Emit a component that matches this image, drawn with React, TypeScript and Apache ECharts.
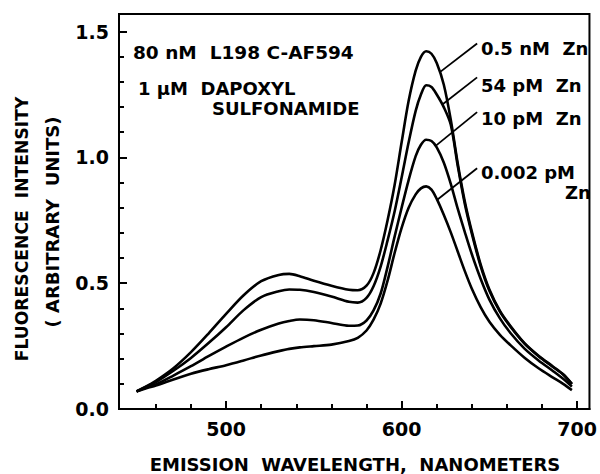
import React, { useEffect, useRef } from "react";
import * as echarts from "echarts";

const wavelengths = [449, 455, 460, 470, 480, 490, 500, 510, 520, 530, 536, 542, 550, 560, 570, 575, 580, 584, 588, 592, 596, 600, 604, 608, 611, 614, 617, 620, 624, 628, 632, 636, 640, 645, 650, 656, 662, 670, 678, 686, 692, 697];

const zn05nM = [0.07, 0.092, 0.112, 0.162, 0.226, 0.3, 0.378, 0.452, 0.508, 0.533, 0.537, 0.528, 0.51, 0.49, 0.474, 0.472, 0.49, 0.54, 0.63, 0.75, 0.89, 1.06, 1.225, 1.345, 1.4, 1.422, 1.412, 1.375, 1.29, 1.15, 0.975, 0.825, 0.705, 0.575, 0.475, 0.39, 0.33, 0.262, 0.212, 0.17, 0.138, 0.1];
const zn54pM = [0.07, 0.09, 0.107, 0.152, 0.203, 0.262, 0.325, 0.393, 0.445, 0.468, 0.475, 0.474, 0.465, 0.447, 0.426, 0.423, 0.442, 0.488, 0.565, 0.67, 0.785, 0.92, 1.06, 1.185, 1.25, 1.287, 1.28, 1.25, 1.2, 1.13, 0.965, 0.815, 0.697, 0.568, 0.47, 0.387, 0.327, 0.26, 0.21, 0.168, 0.137, 0.099];
const zn10pM = [0.07, 0.086, 0.098, 0.133, 0.17, 0.21, 0.248, 0.284, 0.315, 0.34, 0.35, 0.356, 0.353, 0.342, 0.331, 0.332, 0.352, 0.392, 0.458, 0.565, 0.685, 0.8, 0.91, 1.005, 1.05, 1.07, 1.065, 1.04, 0.98, 0.895, 0.795, 0.703, 0.615, 0.518, 0.435, 0.36, 0.302, 0.24, 0.193, 0.152, 0.12, 0.089];
const zn0002pM = [0.07, 0.083, 0.093, 0.117, 0.14, 0.158, 0.174, 0.193, 0.213, 0.23, 0.239, 0.245, 0.25, 0.256, 0.27, 0.283, 0.312, 0.355, 0.418, 0.51, 0.62, 0.72, 0.8, 0.853, 0.877, 0.885, 0.872, 0.835, 0.772, 0.702, 0.625, 0.548, 0.478, 0.405, 0.347, 0.295, 0.254, 0.204, 0.162, 0.126, 0.1, 0.075];

const xLabelTicks = [500, 600, 700];
const xMinorTicks = [460, 480, 520, 540, 560, 580, 620, 640, 660, 680];
const yLabelTicks = [0, 0.5, 1.0, 1.5];
const yMinorTicks = [0.1, 0.2, 0.3, 0.4, 0.6, 0.7, 0.8, 0.9, 1.1, 1.2, 1.3, 1.4];

// leader lines [fromX, fromY, toX, toY] in data units
const leaders = [
  [622, 1.34, 643, 1.453],
  [623.2, 1.21, 643, 1.318],
  [619.2, 1.045, 643, 1.18],
  [620.3, 0.832, 643, 0.957],
];

const FONT = "'DejaVu Sans', sans-serif";

export default function App() {
  const ref = useRef<HTMLDivElement>(null);
  useEffect(() => {
    if (!ref.current) return;
    const chart = echarts.init(ref.current, undefined, { renderer: "svg" });
    const mk = (vals: number[]) => wavelengths.map((w, i) => [w, vals[i]]);
    const lineSeries = (name: string, vals: number[], extra: any = {}) => ({
      name,
      type: "line",
      data: mk(vals),
      smooth: 0.3,
      symbol: "none",
      lineStyle: { color: "#000", width: 2.6 },
      silent: true,
      ...extra,
    });
    const baseX = {
      type: "value",
      min: 439,
      max: 707,
      splitLine: { show: false },
      axisLine: { show: true, lineStyle: { color: "#000", width: 2 } },
    };
    const baseY = {
      type: "value",
      min: 0,
      max: 1.57,
      splitLine: { show: false },
      axisLine: { show: true, lineStyle: { color: "#000", width: 2 } },
    };
    const textStyle = { fontFamily: FONT, fontWeight: "bold", fill: "#000" };
    chart.setOption({
      animation: false,
      grid: { left: 119, right: 7, top: 14, bottom: 65, show: true, borderColor: "#000", borderWidth: 2, containLabel: false },
      xAxis: [
        {
          ...baseX,
          axisTick: { show: true, inside: true, length: 8, lineStyle: { color: "#000", width: 2 }, customValues: xLabelTicks },
          axisLabel: { show: true, customValues: xLabelTicks, margin: 10, color: "#000", fontFamily: FONT, fontWeight: "bold", fontSize: 19 },
        },
        {
          ...baseX,
          position: "bottom",
          axisTick: { show: true, inside: true, length: 5, lineStyle: { color: "#000", width: 2 }, customValues: xMinorTicks },
          axisLabel: { show: false },
        },
      ],
      yAxis: [
        {
          ...baseY,
          axisTick: { show: true, inside: true, length: 8, lineStyle: { color: "#000", width: 2 }, customValues: yLabelTicks },
          axisLabel: { show: true, customValues: yLabelTicks, margin: 10, color: "#000", fontFamily: FONT, fontWeight: "bold", fontSize: 19, formatter: (v: number) => v.toFixed(1) },
        },
        {
          ...baseY,
          position: "left",
          axisTick: { show: true, inside: true, length: 5, lineStyle: { color: "#000", width: 2 }, customValues: yMinorTicks },
          axisLabel: { show: false },
        },
      ],
      series: [
        lineSeries("0.5 nM Zn", zn05nM, {
          markLine: {
            silent: true,
            symbol: "none",
            label: { show: false },
            lineStyle: { color: "#000", width: 1.8, type: "solid" },
            data: leaders.map((l) => [{ coord: [l[0], l[1]] }, { coord: [l[2], l[3]] }]),
          },
        }),
        lineSeries("54 pM Zn", zn54pM),
        lineSeries("10 pM Zn", zn10pM),
        lineSeries("0.002 pM Zn", zn0002pM),
      ],
      graphic: [
        { type: "text", left: 133, top: 43, style: { ...textStyle, text: "80 nM  L198 C-AF594", fontSize: 18.5 } },
        { type: "text", left: 138, top: 79, style: { ...textStyle, text: "1 \u03bcM  DAPOXYL", fontSize: 18 } },
        { type: "text", left: 212, top: 99, style: { ...textStyle, text: "SULFONAMIDE", fontSize: 18 } },
        { type: "text", left: 481, top: 39, style: { ...textStyle, text: "0.5 nM  Zn", fontSize: 18 } },
        { type: "text", left: 481, top: 76, style: { ...textStyle, text: "54 pM  Zn", fontSize: 18 } },
        { type: "text", left: 481, top: 109, style: { ...textStyle, text: "10 pM  Zn", fontSize: 18 } },
        { type: "text", left: 481, top: 163, style: { ...textStyle, text: "0.002 pM", fontSize: 18 } },
        { type: "text", left: 565, top: 183, style: { ...textStyle, text: "Zn", fontSize: 18 } },
        {
          type: "text", x: 22, y: 229, rotation: Math.PI / 2,
          style: { ...textStyle, text: "FLUORESCENCE  INTENSITY", fontSize: 17.2, align: "center", verticalAlign: "middle" },
        },
        {
          type: "text", x: 52, y: 222, rotation: Math.PI / 2,
          style: { ...textStyle, text: "( ARBITRARY  UNITS)", fontSize: 18, align: "center", verticalAlign: "middle" },
        },
        {
          type: "text", x: 355, y: 464,
          style: { ...textStyle, text: "EMISSION  WAVELENGTH,  NANOMETERS", fontSize: 18, align: "center", verticalAlign: "middle" },
        },
      ],
    });
    return () => chart.dispose();
  }, []);
  return <div ref={ref} style={{ position: "absolute", left: 0, top: 0, width: 600, height: 474 }} />;
}
